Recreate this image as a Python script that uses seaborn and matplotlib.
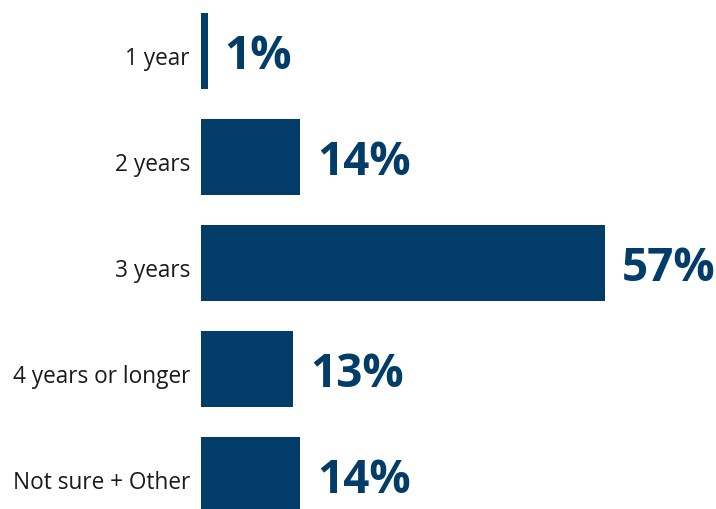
import matplotlib
matplotlib.use("Agg")
import matplotlib.pyplot as plt
import matplotlib.transforms as mtransforms
import seaborn as sns
import pandas as pd

categories = ["1 year", "2 years", "3 years", "4 years or longer", "Not sure + Other"]
values = [1, 14, 57, 13, 14]
value_labels = ["1%", "14%", "57%", "13%", "14%"]

BAR_COLOR = "#023c69"

sns.set_theme(style="white")
plt.rcParams["font.family"] = ["Open Sans", "DejaVu Sans"]

df = pd.DataFrame({"category": categories, "value": values})

fig = plt.figure(figsize=(7.16, 5.10), dpi=100)
ax = fig.add_axes([201 / 716, 0.0, 1 - 201 / 716, 1.0])

sns.barplot(data=df, x="value", y="category", orient="h", color=BAR_COLOR,
            width=0.725, saturation=1, linewidth=0, ax=ax)

ax.set_xlim(0, (716 - 201) / 7.09)
ax.set_ylim(4 + 34 / 106, -52 / 106)

for patch, lab in zip(ax.patches, value_labels):
    x = patch.get_x() + patch.get_width()
    y = patch.get_y() + patch.get_height() / 2
    ax.annotate(lab, (x, y), xytext=(12, -3), textcoords="offset points",
                ha="left", va="center", fontsize=33, fontweight="bold",
                color=BAR_COLOR)

ax.set_xlabel("")
ax.set_ylabel("")
ax.set_xticks([])
ax.tick_params(axis="y", length=0, pad=8, labelsize=16.3, labelcolor="#1a1a1a")
offset = mtransforms.ScaledTranslation(0, -4 / 100, fig.dpi_scale_trans)
for t in ax.get_yticklabels():
    t.set_transform(t.get_transform() + offset)
for s in ax.spines.values():
    s.set_visible(False)

fig.savefig("out.png", dpi=100)
